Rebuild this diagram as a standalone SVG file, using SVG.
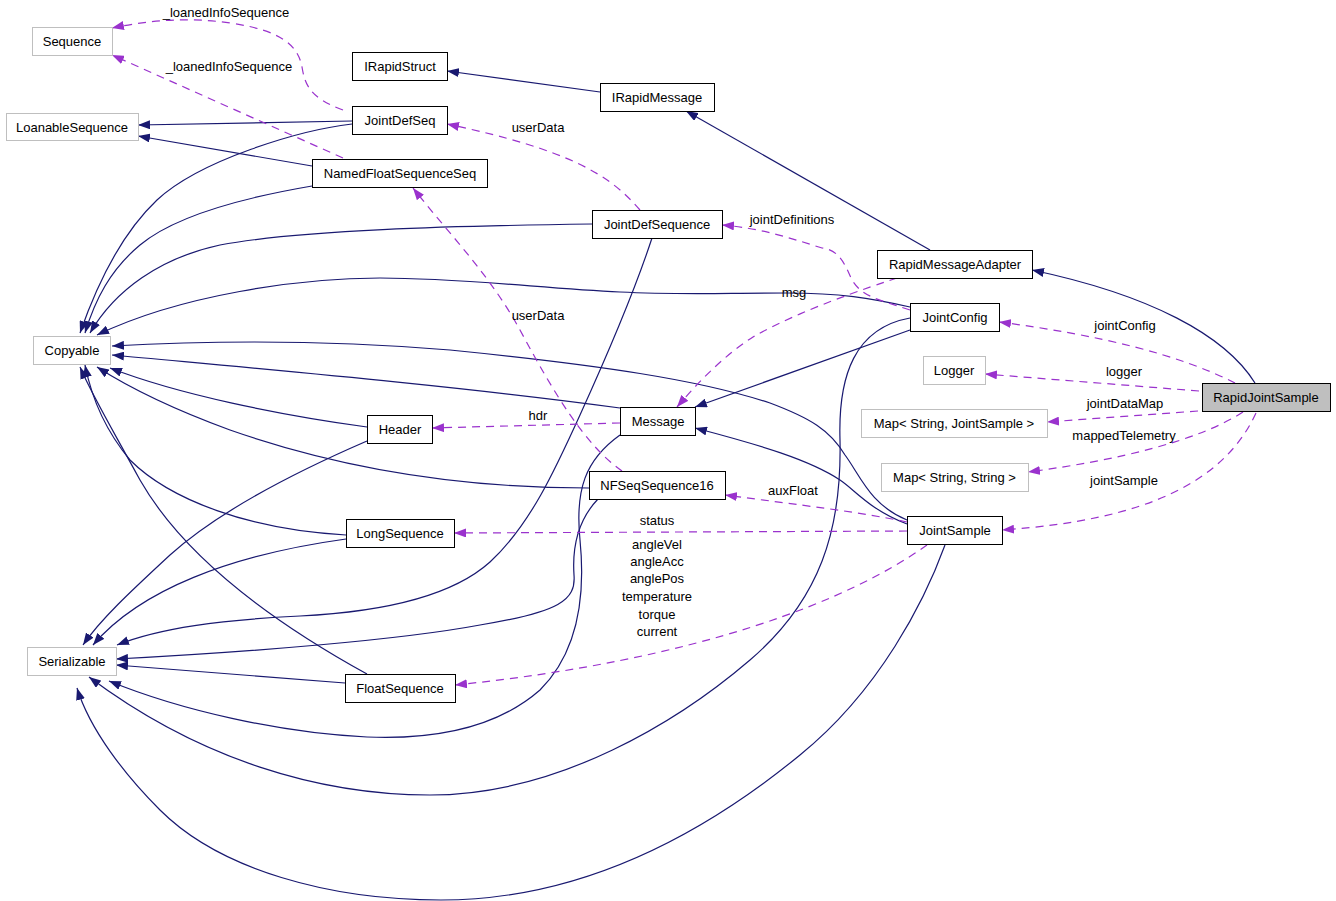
<svg xmlns="http://www.w3.org/2000/svg" width="1336" height="901" viewBox="0 0 1336 901">
<style>
.n rect{fill:#ffffff;stroke:#000000;stroke-width:1}
.n.ext rect{stroke:#bfbfbf}
.n.cur rect{fill:#bfbfbf}
text{font-family:"Liberation Sans",Arial,Helvetica,sans-serif;font-size:13px;fill:#000000}
.n text{text-anchor:middle}
.lbl{text-anchor:middle}
.inh{fill:none;stroke:#191970;stroke-width:1.2;marker-end:url(#ab)}
.use{fill:none;stroke:#9a32cd;stroke-width:1.2;stroke-dasharray:8,6;marker-end:url(#ap)}
</style>
<defs>
<marker id="ab" viewBox="0 0 12 9" refX="12" refY="4.5" markerWidth="12" markerHeight="9" orient="auto" markerUnits="userSpaceOnUse"><path d="M0,0 L12,4.5 L0,9 z" fill="#191970"/></marker>
<marker id="ap" viewBox="0 0 12 9" refX="12" refY="4.5" markerWidth="12" markerHeight="9" orient="auto" markerUnits="userSpaceOnUse"><path d="M0,0 L12,4.5 L0,9 z" fill="#9a32cd"/></marker>
</defs>
<rect x="0" y="0" width="1336" height="901" fill="#ffffff"/>
<g id="edges">
<path class="inh" d="M1255,383 C1225,335 1150,295 1032,270"/>
<path class="inh" d="M930,250 L686,111"/>
<path class="inh" d="M600,92 L447,71"/>
<path class="inh" d="M352,121 L138,125"/>
<path class="inh" d="M352,124 C300,130 200,160 157,200 C120,235 95,290 80,333"/>
<path class="inh" d="M312,166 L138,136"/>
<path class="inh" d="M312,186 C230,200 170,220 140,245 C110,270 95,300 85,333"/>
<path class="inh" d="M592,224 C450,226 300,230 220,245 C160,258 115,290 90,333"/>
<path class="inh" d="M910,307 C870,298 840,293 787,293 C720,293 680,295 620,292 C540,288 460,278 380,278 C300,278 180,295 97,335"/>
<path class="inh" d="M907,520 C870,505 860,475 845,455 C830,430 810,418 770,403 C700,380 600,365 450,350 C330,340 220,340 112,346"/>
<path class="inh" d="M620,408 C450,385 250,368 112,355"/>
<path class="inh" d="M367,427 C280,415 180,395 110,368"/>
<path class="inh" d="M589,488 C450,488 330,465 230,430 C170,408 125,385 97,367"/>
<path class="inh" d="M346,535 C250,530 170,500 130,460 C105,430 92,400 85,365"/>
<path class="inh" d="M367,674 C260,615 180,550 140,480 C110,425 92,395 80,367"/>
<path class="inh" d="M910,330 L695,407"/>
<path class="inh" d="M907,524 C870,510 855,490 840,480 C810,460 760,445 695,428"/>
<path class="inh" d="M367,441 C300,470 220,510 170,555 C130,592 100,620 83,645"/>
<path class="inh" d="M346,539 C230,555 140,590 93,645"/>
<path class="inh" d="M652,238 C635,290 605,360 580,415 C555,470 530,525 490,562 C450,598 380,612 300,616 C220,620 160,628 117,645"/>
<path class="inh" d="M598,499 C578,520 572,545 574,575 C576,600 560,612 480,625 C400,640 250,652 116,659"/>
<path class="inh" d="M345,683 L116,665"/>
<path class="inh" d="M620,435 C585,460 575,490 580,540 C585,590 580,650 540,690 C500,725 440,740 367,737 C280,733 180,710 109,681"/>
<path class="inh" d="M910,318 C855,328 838,375 840,440 C842,530 820,600 750,660 C680,720 560,795 430,795 C320,795 200,760 89,677"/>
<path class="inh" d="M945,545 C925,600 880,690 800,755 C690,845 570,900 441,900 C330,900 220,870 160,810 C125,775 90,730 77,688"/>
<path class="use" d="M343,110 C310,98 305,85 302,67 C298,45 280,30 230,23 C190,17 150,20 112,28"/>
<path class="use" d="M343,158 L112,55"/>
<path class="use" d="M640,210 C610,175 570,150 447,124"/>
<path class="use" d="M622,471 C585,445 555,395 520,330 C490,275 450,235 413,188"/>
<path class="use" d="M910,310 C880,300 862,297 852,280 C845,265 840,250 822,248 C790,238 760,228 722,225"/>
<path class="use" d="M897,278 C870,287 800,310 753,337 C725,355 700,380 677,407"/>
<path class="use" d="M620,423 L432,428"/>
<path class="use" d="M1235,383 C1180,355 1100,335 999,322"/>
<path class="use" d="M1199,391 L985,374"/>
<path class="use" d="M1198,411 L1047,422"/>
<path class="use" d="M1243,412 C1200,440 1120,460 1028,472"/>
<path class="use" d="M1256,413 C1225,480 1150,520 1002,530"/>
<path class="use" d="M907,522 C860,512 800,505 725,495"/>
<path class="use" d="M907,531 L454,533"/>
<path class="use" d="M927,545 C850,600 700,660 455,685"/>
<text class="lbl" x="226" y="17">_loanedInfoSequence</text>
<text class="lbl" x="229" y="71">_loanedInfoSequence</text>
<text class="lbl" x="538" y="132">userData</text>
<text class="lbl" x="792" y="224">jointDefinitions</text>
<text class="lbl" x="794" y="297">msg</text>
<text class="lbl" x="538" y="320">userData</text>
<text class="lbl" x="1125" y="330">jointConfig</text>
<text class="lbl" x="1124" y="376">logger</text>
<text class="lbl" x="1125" y="408">jointDataMap</text>
<text class="lbl" x="538" y="420">hdr</text>
<text class="lbl" x="1124" y="440">mappedTelemetry</text>
<text class="lbl" x="1124" y="485">jointSample</text>
<text class="lbl" x="793" y="495">auxFloat</text>
<text class="lbl" x="657" y="525">status</text>
<text class="lbl" x="657" y="549">angleVel</text>
<text class="lbl" x="657" y="566">angleAcc</text>
<text class="lbl" x="657" y="583">anglePos</text>
<text class="lbl" x="657" y="601">temperature</text>
<text class="lbl" x="657" y="619">torque</text>
<text class="lbl" x="657" y="636">current</text>
</g>
<g id="RapidJointSample" class="n cur"><rect x="1202.5" y="383.5" width="128" height="28"/><text x="1266" y="402">RapidJointSample</text></g>
<g id="RapidMessageAdapter" class="n"><rect x="877.5" y="250.5" width="155" height="28"/><text x="955" y="269">RapidMessageAdapter</text></g>
<g id="IRapidMessage" class="n"><rect x="600.5" y="83.5" width="114" height="28"/><text x="657" y="102">IRapidMessage</text></g>
<g id="IRapidStruct" class="n"><rect x="352.5" y="52.5" width="95" height="28"/><text x="400" y="71">IRapidStruct</text></g>
<g id="JointDefSeq" class="n"><rect x="352.5" y="106.5" width="95" height="28"/><text x="400" y="125">JointDefSeq</text></g>
<g id="Sequence" class="n ext"><rect x="32.5" y="27.5" width="80" height="28"/><text x="72" y="46">Sequence</text></g>
<g id="LoanableSequence" class="n ext"><rect x="6.5" y="113.5" width="132" height="27"/><text x="72" y="131.5">LoanableSequence</text></g>
<g id="NamedFloatSequenceSeq" class="n"><rect x="312.5" y="159.5" width="175" height="28"/><text x="400" y="178">NamedFloatSequenceSeq</text></g>
<g id="JointDefSequence" class="n"><rect x="592.5" y="210.5" width="130" height="28"/><text x="657" y="229">JointDefSequence</text></g>
<g id="JointConfig" class="n"><rect x="910.5" y="303.5" width="89" height="28"/><text x="955" y="322">JointConfig</text></g>
<g id="Logger" class="n ext"><rect x="923.5" y="356.5" width="62" height="28"/><text x="954" y="375">Logger</text></g>
<g id="MapStringJointSample" class="n ext"><rect x="861.5" y="409.5" width="186" height="28"/><text x="954" y="428">Map&lt; String, JointSample &gt;</text></g>
<g id="MapStringString" class="n ext"><rect x="881.5" y="463.5" width="147" height="28"/><text x="954.5" y="482">Map&lt; String, String &gt;</text></g>
<g id="JointSample" class="n"><rect x="907.5" y="516.5" width="95" height="28"/><text x="955" y="535">JointSample</text></g>
<g id="Copyable" class="n ext"><rect x="33.5" y="336.5" width="77" height="28"/><text x="72" y="355">Copyable</text></g>
<g id="Header" class="n"><rect x="367.5" y="415.5" width="65" height="28"/><text x="400" y="434">Header</text></g>
<g id="Message" class="n"><rect x="620.5" y="407.5" width="75" height="28"/><text x="658" y="426">Message</text></g>
<g id="NFSeqSequence16" class="n"><rect x="589.5" y="471.5" width="136" height="28"/><text x="657" y="490">NFSeqSequence16</text></g>
<g id="LongSequence" class="n"><rect x="346.5" y="519.5" width="108" height="28"/><text x="400" y="538">LongSequence</text></g>
<g id="Serializable" class="n ext"><rect x="27.5" y="647.5" width="89" height="28"/><text x="72" y="666">Serializable</text></g>
<g id="FloatSequence" class="n"><rect x="345.5" y="674.5" width="110" height="28"/><text x="400" y="693">FloatSequence</text></g>
</svg>
